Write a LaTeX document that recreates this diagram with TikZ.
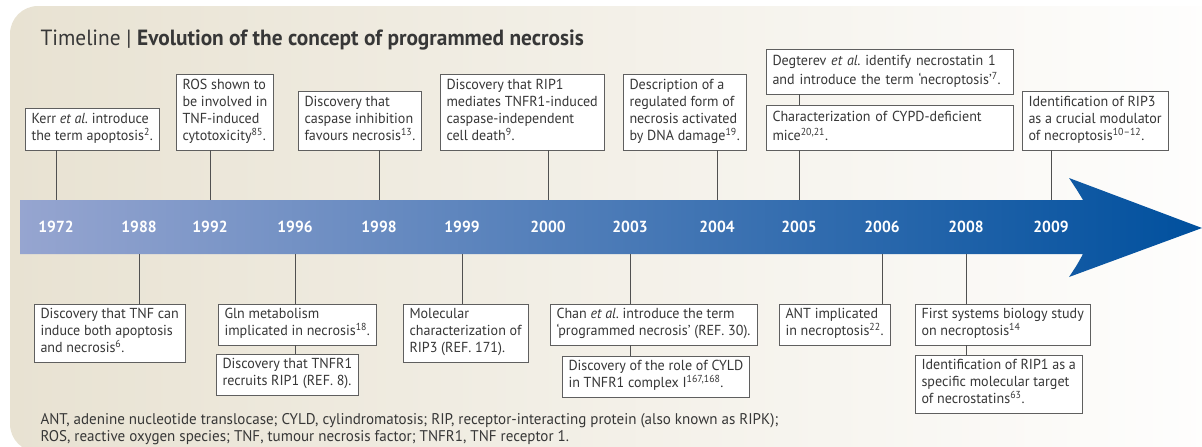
\documentclass[tikz,border=0pt]{standalone}
\usepackage{fontspec}
\setmainfont{PT Sans}[FakeStretch=0.97]
\definecolor{bgleft}{RGB}{232,226,210}
\definecolor{bandleft}{RGB}{150,165,208}
\definecolor{bandmid}{RGB}{90,121,181}
\definecolor{bandright}{RGB}{0,80,158}
\definecolor{boxline}{RGB}{95,95,95}
\definecolor{linkline}{RGB}{80,80,80}
\definecolor{ink}{RGB}{55,55,55}
\begin{document}
\begin{tikzpicture}[x=1pt,y=-1pt]
    \tikzstyle{event}=[draw=boxline,line width=1pt,fill=white,inner xsep=6.5pt,inner ysep=4.5pt,outer sep=0pt,align=left,text=ink,font=\fontsize{14.5}{17}\selectfont,execute at begin node=\strut,execute at end node=\strut]
    \tikzstyle{year}=[text=white,font=\bfseries\fontsize{16}{16}\selectfont]
    \tikzstyle{link}=[draw=linkline,line width=0.9pt]
    \useasboundingbox (0,0) rectangle (1202,447);
    \shade[left color=bgleft,right color=white,rounded corners=28pt] (10,6) rectangle (1260,452);
    \node[anchor=base west,text=ink,font=\fontsize{22}{24}\selectfont] (t) at (37,45) {Timeline | \textbf{Evolution of the concept of programmed necrosis}};
    \shade[left color=bandleft,middle color=bandmid,right color=bandright] (20,200) -- (1083,200) .. controls (1077,190) .. (1069,178) -- (1202,228) -- (1069,277) .. controls (1077,265) .. (1083,254) -- (20,254) -- cycle;
    \coordinate (haut) at (0,200);
    \coordinate (bas) at (0,254);
    \node[year] (1972) at (56,227) {1972};
    \node[year] (1988) at (139,227) {1988};
    \node[year] (1992) at (210,227) {1992};
    \node[year] (1996) at (295,227) {1996};
    \node[year] (1998) at (379,227) {1998};
    \node[year] (1999) at (462,227) {1999};
    \node[year] (2000) at (548,227) {2000};
    \node[year] (2003) at (630,227) {2003};
    \node[year] (2004) at (717,227) {2004};
    \node[year] (2005) at (799,227) {2005};
    \node[year] (2006) at (882,227) {2006};
    \node[year] (2008) at (966,227) {2008};
    \node[year] (2009) at (1051,227) {2009};
    \node[event,anchor=south west] (1) at (25,150) {Kerr \textit{et al.}\ introduce\\the term apoptosis\textsuperscript{2}.};
    \node[event,anchor=south west] (2) at (176,150) {ROS shown to\\be involved in\\TNF-induced\\cytotoxicity\textsuperscript{85}.};
    \node[event,anchor=south west] (3) at (298,150) {Discovery that\\caspase inhibition\\favours necrosis\textsuperscript{13}.};
    \node[event,anchor=south west] (4) at (440,150) {Discovery that RIP1\\mediates TNFR1-induced\\caspase-independent\\cell death\textsuperscript{9}.};
    \node[event,anchor=south west] (5) at (623,150) {Description of a\\regulated form of\\necrosis activated\\by DNA damage\textsuperscript{19}.};
    \node[event,anchor=south west,text width=234pt] (6) at (766,94) {Degterev \textit{et al.}\ identify necrostatin 1\\and introduce the term ‘necroptosis’\textsuperscript{7}.};
    \node[event,anchor=south west,text width=234pt] (7) at (766,150) {Characterization of CYPD-deficient\\mice\textsuperscript{20,21}.};
    \node[event,anchor=south west] (8) at (1022,150) {Identification of RIP3\\as a crucial modulator\\of necroptosis\textsuperscript{10–12}.};
    \node[event,anchor=north west] (9) at (34,304) {Discovery that TNF can\\induce both apoptosis\\and necrosis\textsuperscript{6}.};
    \node[event,anchor=north west] (10) at (218,304) {Gln metabolism\\implicated in necrosis\textsuperscript{18}.};
    \node[event,anchor=north west] (11) at (216,354) {Discovery that TNFR1\\recruits RIP1 (REF. 8).};
    \node[event,anchor=north west] (12) at (403,304) {Molecular\\characterization of\\RIP3 (REF. 171).};
    \node[event,anchor=north west] (13) at (550,304) {Chan \textit{et al.}\ introduce the term\\‘programmed necrosis’ (REF. 30).};
    \node[event,anchor=north west] (14) at (562,356) {Discovery of the role of CYLD\\in TNFR1 complex I\textsuperscript{167,168}.};
    \node[event,anchor=north west] (15) at (779,304) {ANT implicated\\in necroptosis\textsuperscript{22}.};
    \node[event,anchor=north west] (16) at (915,304) {First systems biology study\\on necroptosis\textsuperscript{14}};
    \node[event,anchor=north west] (17) at (915,355) {Identification of RIP1 as a\\specific molecular target\\of necrostatins\textsuperscript{63}.};
    \draw[link] (1972 |- 1.south) -- (1972 |- haut);
    \draw[link] (1992 |- 2.south) -- (1992 |- haut);
    \draw[link] (1998 |- 3.south) -- (1998 |- haut);
    \draw[link] (2000 |- 4.south) -- (2000 |- haut);
    \draw[link] (2004 |- 5.south) -- (2004 |- haut);
    \draw[link] (2005 |- 6.south) -- (2005 |- 7.north);
    \draw[link] (2005 |- 7.south) -- (2005 |- haut);
    \draw[link] (2009 |- 8.south) -- (2009 |- haut);
    \draw[link] (1988 |- bas) -- (1988 |- 9.north);
    \draw[link] (1996 |- bas) -- (1996 |- 10.north);
    \draw[link] (1996 |- 10.south) -- (1996 |- 11.north);
    \draw[link] (1999 |- bas) -- (1999 |- 12.north);
    \draw[link] (2003 |- bas) -- (2003 |- 13.north);
    \draw[link] (2003 |- 13.south) -- (2003 |- 14.north);
    \draw[link] (2006 |- bas) -- (2006 |- 15.north);
    \draw[link] (2008 |- bas) -- (2008 |- 16.north);
    \draw[link] (2008 |- 16.south) -- (2008 |- 17.north);
    \node[anchor=base west,text=ink,font=\fontsize{15.5}{18}\selectfont] (l1) at (37,424) {ANT, adenine nucleotide translocase; CYLD, cylindromatosis; RIP, receptor-interacting protein (also known as RIPK);};
    \node[anchor=base west,text=ink,font=\fontsize{15.5}{18}\selectfont] (l2) at (37,441) {ROS, reactive oxygen species; TNF, tumour necrosis factor; TNFR1, TNF receptor 1.};
\end{tikzpicture}
\end{document}
